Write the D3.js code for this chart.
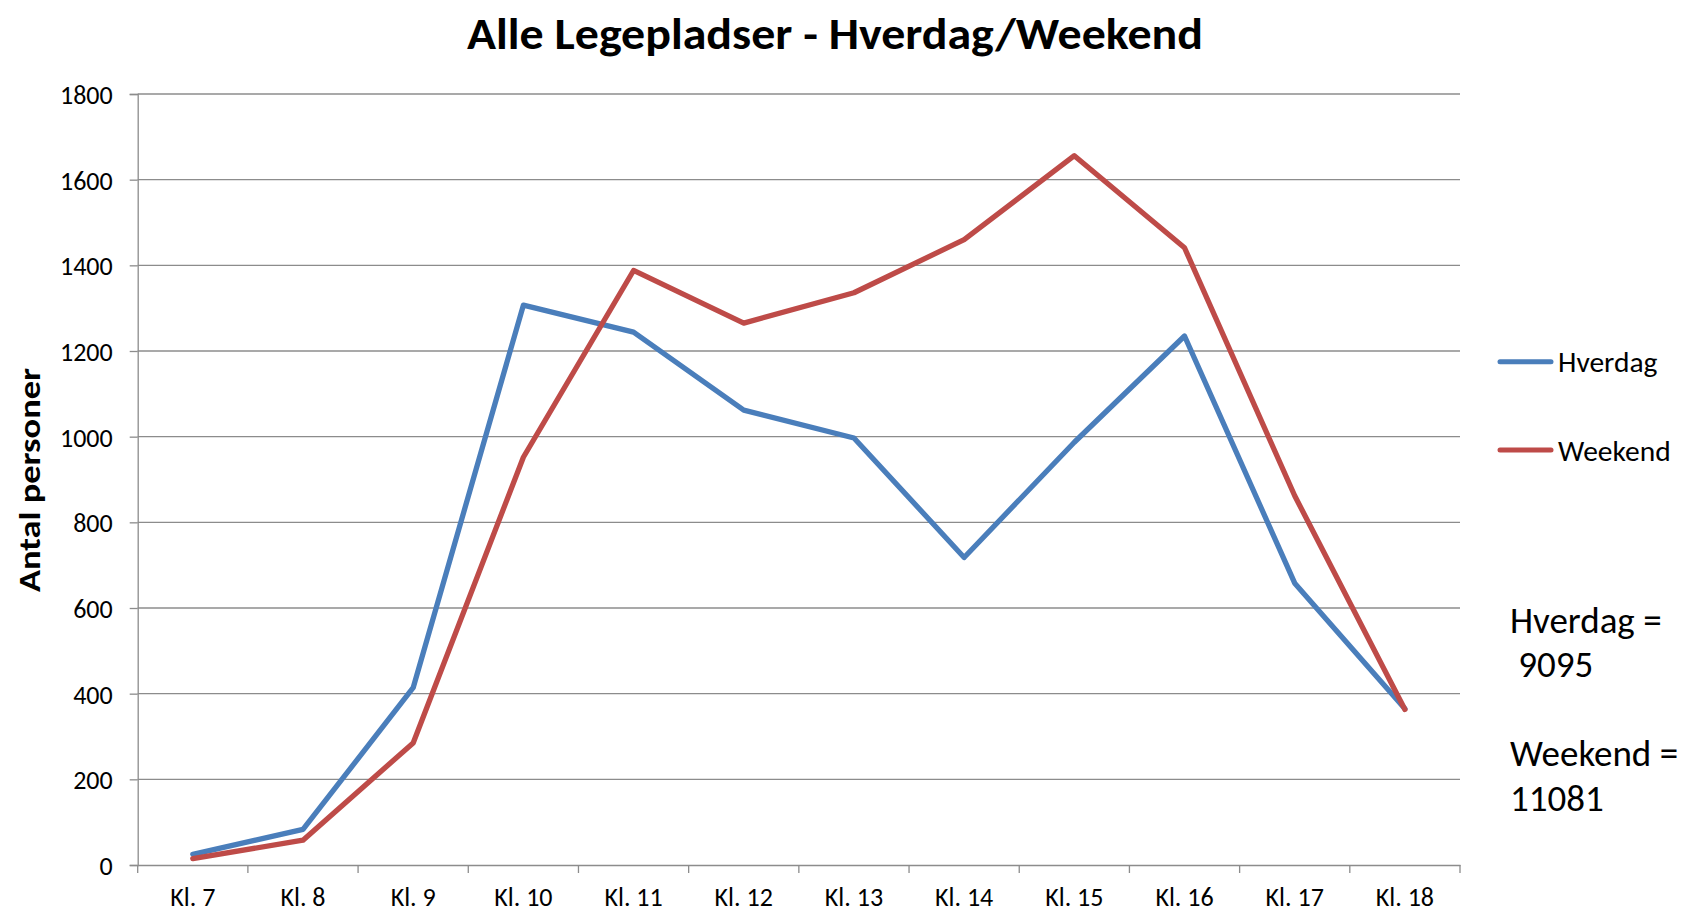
<!DOCTYPE html>
<html>
<head>
<meta charset="utf-8">
<script src="https://cdn.jsdelivr.net/npm/d3@7"></script>
<style>
  html, body { margin: 0; padding: 0; background: #fff; }
  svg { display: block; font-family: Carlito, Lato, "Open Sans", sans-serif; }
</style>
</head>
<body>
<svg id="chart" width="1684" height="912"></svg>
<script>
const categories = ["Kl. 7","Kl. 8","Kl. 9","Kl. 10","Kl. 11","Kl. 12","Kl. 13","Kl. 14","Kl. 15","Kl. 16","Kl. 17","Kl. 18"];
const hverdag = [25, 83, 414, 1307, 1244, 1062, 997, 718, 987, 1235, 658, 365];
const weekend = [15, 58, 285, 952, 1388, 1265, 1336, 1460, 1656, 1441, 862, 363];
const yTicks = [0, 200, 400, 600, 800, 1000, 1200, 1400, 1600, 1800];
const seriesNames = ["Hverdag", "Weekend"];
const seriesColors = ["#4A7EBB", "#BE4B48"];
const titleText = "Alle Legepladser - Hverdag/Weekend";
const yTitle = "Antal personer";
const noteLines = [["Hverdag =", " 9095"], ["Weekend =", "11081"]];

(function () {
const svg = d3.select("#chart");
const pLeft = 137.7, pRight = 1460, pTop = 94, pBottom = 865;

const x = d3.scaleBand().domain(categories).range([pLeft, pRight]).padding(0);
const y = d3.scaleLinear().domain([0, 1800]).range([pBottom, pTop]);

// gridlines
svg.append("g").selectAll("line").data(yTicks.filter(d => d > 0)).join("line")
  .attr("x1", pLeft).attr("x2", pRight)
  .attr("y1", d => y(d)).attr("y2", d => y(d))
  .attr("stroke", "#8c8c8c").attr("stroke-width", 1.3);

// y axis
const yAxis = svg.append("g").attr("transform", `translate(${pLeft},0)`)
  .call(d3.axisLeft(y).tickValues(yTicks).tickFormat(d3.format("d")).tickSize(8).tickPadding(17));
yAxis.select(".domain").attr("stroke", "#8c8c8c").attr("stroke-width", 1.3);
yAxis.selectAll(".tick line").attr("stroke", "#8c8c8c").attr("stroke-width", 1.3);
yAxis.selectAll(".tick text").attr("font-size", 26).attr("fill", "#000")
  .attr("font-family", "Carlito, Lato, sans-serif").attr("dy", "0.36em");

// x axis
const xAxis = svg.append("g").attr("transform", `translate(0,${pBottom})`)
  .call(d3.axisBottom(x).tickSize(0).tickPadding(23));
xAxis.select(".domain").attr("stroke", "#8c8c8c").attr("stroke-width", 1.3);
xAxis.selectAll(".tick text").attr("font-size", 26).attr("fill", "#000")
  .attr("font-family", "Carlito, Lato, sans-serif");
// x ticks at category boundaries
const boundaries = categories.map(c => x(c)).concat([pRight]);
svg.append("g").selectAll("line").data(boundaries).join("line")
  .attr("x1", d => d).attr("x2", d => d)
  .attr("y1", pBottom).attr("y2", pBottom + 8)
  .attr("stroke", "#8c8c8c").attr("stroke-width", 1.3);

// lines
const line = d3.line()
  .x((d, i) => x(categories[i]) + x.bandwidth() / 2)
  .y(d => y(d));
[hverdag, weekend].forEach((s, i) => {
  svg.append("path").datum(s)
    .attr("d", line)
    .attr("fill", "none")
    .attr("stroke", seriesColors[i])
    .attr("stroke-width", 5.3)
    .attr("stroke-linejoin", "round")
    .attr("stroke-linecap", "round");
});

// title
svg.append("text").attr("x", 467).attr("y", 49)
  .attr("font-size", 44).attr("font-weight", "bold")
  .attr("textLength", 736).attr("lengthAdjust", "spacingAndGlyphs")
  .text(titleText);

// y title
svg.append("text")
  .attr("transform", `translate(40,480) rotate(-90)`)
  .attr("text-anchor", "middle")
  .attr("font-size", 30).attr("font-weight", "bold")
  .attr("textLength", 224).attr("lengthAdjust", "spacingAndGlyphs")
  .text(yTitle);

// legend
const legY = [361.7, 450];
seriesNames.forEach((n, i) => {
  svg.append("line")
    .attr("x1", 1500).attr("x2", 1551)
    .attr("y1", legY[i]).attr("y2", legY[i])
    .attr("stroke", seriesColors[i]).attr("stroke-width", 5)
    .attr("stroke-linecap", "round");
  svg.append("text").attr("x", 1558).attr("y", legY[i] + 10.5)
    .attr("font-size", 29.5).text(n);
});

// annotation
const noteBase = [[633, 677], [766, 811]];
noteLines.forEach((pair, i) => {
  pair.forEach((t, j) => {
    svg.append("text").attr("x", 1510).attr("y", noteBase[i][j])
      .attr("font-size", 37)
      .style("white-space", "pre")
      .text(t);
  });
});
})();
</script>
</body>
</html>
